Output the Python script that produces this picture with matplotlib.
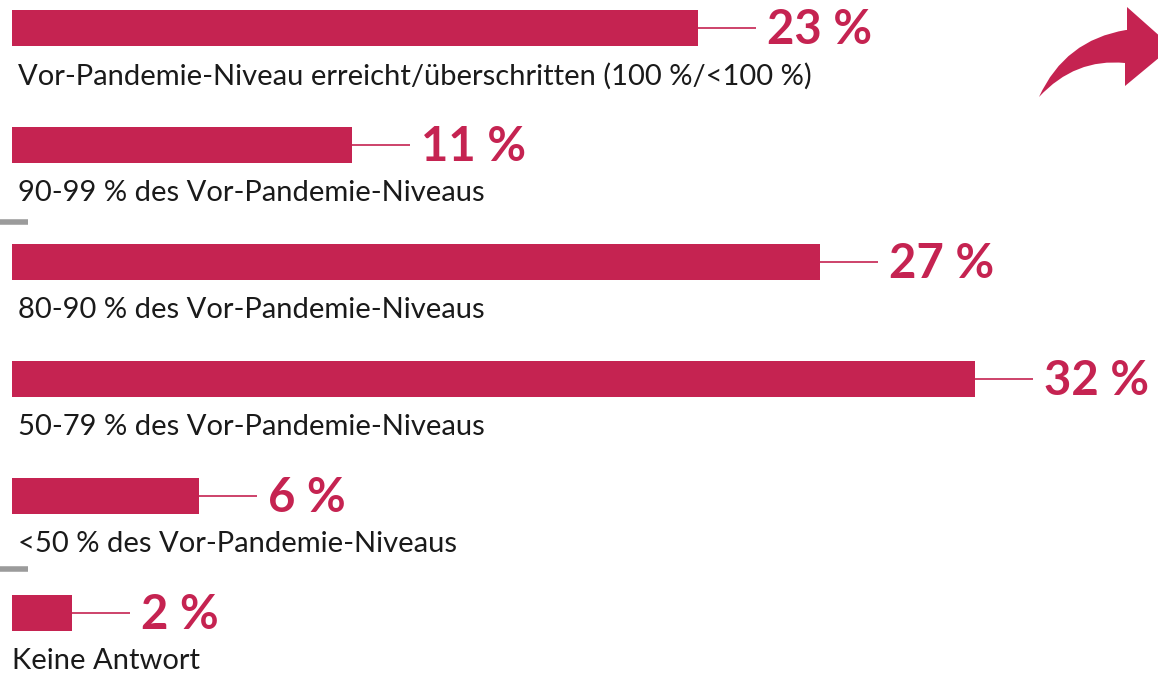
import matplotlib.pyplot as plt
from matplotlib.path import Path
from matplotlib.patches import PathPatch

categories = [
    "Vor-Pandemie-Niveau erreicht/überschritten (100 %/<100 %)",
    "90-99 % des Vor-Pandemie-Niveaus",
    "80-90 % des Vor-Pandemie-Niveaus",
    "50-79 % des Vor-Pandemie-Niveaus",
    "<50 % des Vor-Pandemie-Niveaus",
    "Keine Antwort",
]
# bar lengths, labels as printed
values = [22.8, 11.3, 26.85, 32.0, 6.2, 2.0]
value_labels = ["23 %", "11 %", "27 %", "32 %", "6 %", "2 %"]

RED = "#C52351"
GREY = "#9B9B9B"
plt.rcParams['font.family'] = ['Lato', 'DejaVu Sans']

W, H = 1158, 673
fig = plt.figure(figsize=(W / 100, H / 100), dpi=100)
ax = fig.add_axes([0, 0, 1, 1])

# pixel geometry of the reference -> data limits
px_per_pct = 30.1
x0 = 12
row_px, top_px = 117, 28
ax.set_xlim(-x0 / px_per_pct, (W - x0) / px_per_pct)
ax.set_ylim((H - top_px) / row_px, -top_px / row_px)
ax.axis('off')

rows = range(len(values))
ax.barh(list(rows), values, height=36 / row_px, color=RED, left=0)

line_len = 58 / px_per_pct
for i, (v, lab, cat) in enumerate(zip(values, value_labels, categories)):
    ax.plot([v, v + line_len], [i, i], color=RED, lw=1.2, solid_capstyle='butt')
    ax.text(v + line_len + 11 / px_per_pct, i + 0.02, lab, color=RED, fontsize=34,
            fontweight='bold', va='center', ha='left')
    tx = 0 if i == len(values) - 1 else 6 / px_per_pct
    ax.text(tx, i + 48 / row_px, cat, color='#1a1a1a', fontsize=21,
            va='center', ha='left')

# small grey separators
for yy in [1.66, 4.62]:
    ax.plot([-x0 / px_per_pct, 16 / px_per_pct], [yy, yy], color=GREY, lw=4,
            solid_capstyle='butt')

# curved arrow in the top right corner (pixel coordinates)
ov = fig.add_axes([0, 0, 1, 1], facecolor='none')
ov.set_xlim(0, W)
ov.set_ylim(H, 0)
ov.axis('off')
verts = [(1039, 97), (1065, 40), (1126, 30), (1127, 30), (1127, 7), (1172, 47),
         (1125, 86), (1125, 63), (1075, 58), (1039, 97), (1039, 97)]
codes = [Path.MOVETO, Path.CURVE3, Path.CURVE3, Path.LINETO, Path.LINETO, Path.LINETO,
         Path.LINETO, Path.LINETO, Path.CURVE3, Path.CURVE3, Path.CLOSEPOLY]
ov.add_patch(PathPatch(Path(verts, codes), facecolor=RED, edgecolor='none'))

fig.savefig("out.png", dpi=100)
